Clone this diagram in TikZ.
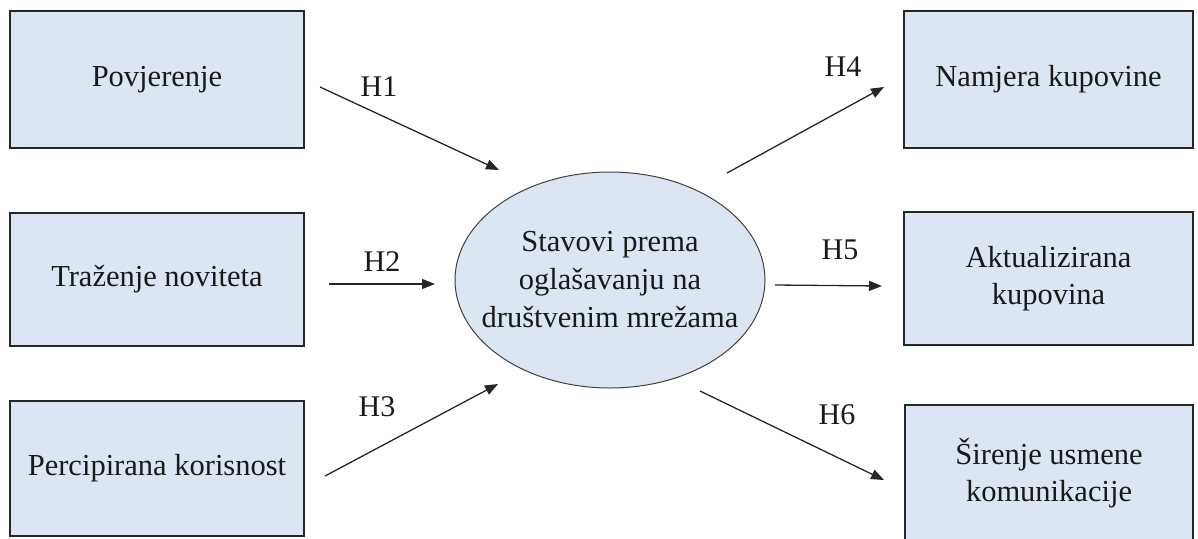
\documentclass[tikz,border=0pt]{standalone}
\usepackage{fontspec}
\setmainfont{Liberation Serif}
\usetikzlibrary{arrows.meta}
\usetikzlibrary{shapes.geometric}

\definecolor{boxfill}{RGB}{220,230,242}
\tikzset{
  factor/.style={draw=black!85, line width=1.5pt, fill=boxfill,
    inner sep=0pt, align=center, text=black!90,
    font=\fontsize{30.5}{37}\selectfont},
  attitude/.style={ellipse, draw=black!75, line width=1pt, fill=boxfill,
    inner xsep=-21pt, inner ysep=0pt, align=center, text=black!90,
    minimum width=310pt, minimum height=216pt,
    font=\fontsize{30.5}{38}\selectfont},
  hyp/.style={text=black!90, font=\fontsize{30}{36}\selectfont},
  path/.style={draw=black!85, line width=1.3pt,
    -{Triangle[length=13pt,width=10pt]}}
}

\begin{document}
\begin{tikzpicture}[x=1pt,y=-1pt]
  \useasboundingbox (0,0) rectangle (1198,538);

  %left
  \node[factor, minimum width=294pt, minimum height=137pt]
    (povjerenje) at (157,79.5) {Povjerenje};
  \node[factor, minimum width=294pt, minimum height=133pt]
    (trazenje) at (157,279.5) {Traženje noviteta};
  \node[factor, minimum width=294pt, minimum height=135pt]
    (percipirana) at (157,468.5) {Percipirana korisnost};

  %centre
  \node[attitude] (stavovi) at (610,280)
    {Stavovi prema\\oglašavanju na\\društvenim mrežama};

  %right
  \node[factor, minimum width=289pt, minimum height=137pt]
    (namjera) at (1048.5,79.5) {Namjera kupovine};
  \node[factor, minimum width=289pt, minimum height=133pt]
    (aktualizirana) at (1048.5,278.5) {Aktualizirana\\kupovina};
  \node[factor, minimum width=288pt, minimum height=137pt]
    (sirenje) at (1049,473.5) {Širenje usmene\\komunikacije};

  %arrows
  \coordinate (h1from) at (320,87);
  \coordinate (h1to) at (499,170);
  \coordinate (h2from) at (329,284);
  \coordinate (h2to) at (435,284);
  \coordinate (h3from) at (325,476);
  \coordinate (h3to) at (498,384);
  \coordinate (h4from) at (727,173);
  \coordinate (h4to) at (884,87);
  \coordinate (h5from) at (775,285);
  \coordinate (h5to) at (882,286);
  \coordinate (h6from) at (700,391);
  \coordinate (h6to) at (884,480);

  \draw[path] (h1from) -- (h1to);
  \draw[path] (h2from) -- (h2to);
  \draw[path] (h3from) -- (h3to);
  \draw[path] (h4from) -- (h4to);
  \draw[path] (h5from) -- (h5to);
  \draw[path] (h6from) -- (h6to);

  %labels
  \node[hyp] (h1) at (379,87) {H1};
  \node[hyp] (h2) at (382,262) {H2};
  \node[hyp] (h3) at (377,407) {H3};
  \node[hyp] (h4) at (843,67) {H4};
  \node[hyp] (h5) at (840,250) {H5};
  \node[hyp] (h6) at (837,415) {H6};
\end{tikzpicture}
\end{document}
